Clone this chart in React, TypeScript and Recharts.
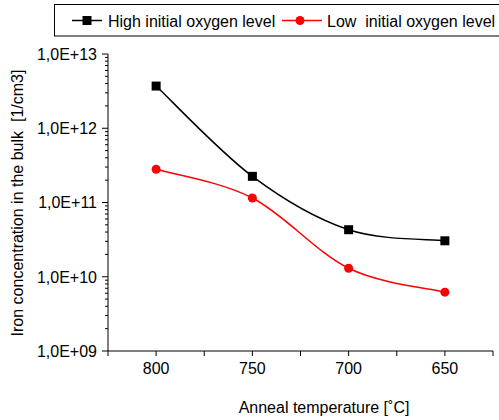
import React from 'react';
import { LineChart, Line, XAxis, YAxis, Legend, Label } from 'recharts';

const temperatures = [800, 750, 700, 650];
const highOxygen = [3.7e12, 2.25e11, 4.3e10, 3.05e10];
const lowOxygen = [2.8e11, 1.15e11, 1.3e10, 6.2e9];

const seriesNames = ['High initial oxygen level', 'Low  initial oxygen level'];

const xTicks = [825, 800, 775, 750, 725, 700, 675, 650, 625];
const xTickLabels: Record<number, string> = { 800: '800', 750: '750', 700: '700', 650: '650' };

const yMajorTicks = [1e9, 1e10, 1e11, 1e12, 1e13];
const yTickLabels = ['1,0E+09', '1,0E+10', '1,0E+11', '1,0E+12', '1,0E+13'];
const yMinorMultipliers = [2, 3, 4, 5, 6, 7, 8, 9];

const yTicks: number[] = [];
yMajorTicks.forEach((m, i) => {
  yTicks.push(m);
  if (i < yMajorTicks.length - 1) yMinorMultipliers.forEach((k) => yTicks.push(m * k));
});

const data = temperatures.map((t, i) => ({ temp: t, high: highOxygen[i], low: lowOxygen[i] }));

const FONT = '"Liberation Sans", Arial, sans-serif';

// Excel-like smoothing (Catmull-Rom bezier)
const smoothCurve: any = (context: any) => {
  let pts: number[][] = [];
  return {
    areaStart() {},
    areaEnd() {},
    lineStart() {
      pts = [];
    },
    point(x: number, y: number) {
      pts.push([+x, +y]);
    },
    lineEnd() {
      const n = pts.length;
      if (!n) return;
      context.moveTo(pts[0][0], pts[0][1]);
      for (let i = 0; i < n - 1; i++) {
        const p0 = pts[Math.max(i - 1, 0)];
        const p1 = pts[i];
        const p2 = pts[i + 1];
        const p3 = pts[Math.min(i + 2, n - 1)];
        const c1x = p1[0] + (p2[0] - p0[0]) / 6;
        const c1y = p1[1] + (p2[1] - p0[1]) / 6;
        const c2x = p2[0] - (p3[0] - p1[0]) / 6;
        const c2y = p2[1] - (p3[1] - p1[1]) / 6;
        context.bezierCurveTo(c1x, c1y, c2x, c2y, p2[0], p2[1]);
      }
    },
  };
};

const YTick = (props: any) => {
  const { x, y, payload } = props;
  const idx = yMajorTicks.indexOf(payload.value);
  if (idx >= 0) {
    return (
      <g>
        <line x1={x - 6} y1={y} x2={x} y2={y} stroke="#000" strokeWidth={1} />
        <text x={x - 11} y={y} dy="0.36em" textAnchor="end" fontFamily={FONT} fontSize={16} fill="#000">
          {yTickLabels[idx]}
        </text>
      </g>
    );
  }
  return <line x1={x - 3} y1={y} x2={x} y2={y} stroke="#000" strokeWidth={1} />;
};

const SquareDot = (props: any) => {
  const { cx, cy } = props;
  return <rect x={cx - 4.5} y={cy - 4.5} width={9} height={9} fill="#000" />;
};

const CircleDot = (props: any) => {
  const { cx, cy } = props;
  return <circle cx={cx} cy={cy} r={4.5} fill="#ff0000" />;
};

const LegendBox = () => (
  <svg width={460} height={33} style={{ display: 'block' }}>
    <rect x={0.5} y={0.5} width={470} height={31.5} fill="#fff" stroke="#000" strokeWidth={1} />
    <line x1={18} y1={16.5} x2={48} y2={16.5} stroke="#000" strokeWidth={1.5} />
    <rect x={28.5} y={12} width={9} height={9} fill="#000" />
    <text x={54} y={17.5} dy="0.36em" fontFamily={FONT} fontSize={16} fill="#000">
      {seriesNames[0]}
    </text>
    <line x1={228} y1={16.5} x2={268} y2={16.5} stroke="#ff0000" strokeWidth={1.5} />
    <circle cx={246} cy={16.5} r={4.5} fill="#ff0000" />
    <text x={273} y={17.5} dy="0.36em" fontFamily={FONT} fontSize={16} fill="#000" style={{ whiteSpace: 'pre' }}>
      {seriesNames[1]}
    </text>
  </svg>
);

export default function App() {
  return (
    <div style={{ position: 'absolute', left: 0, top: 0, width: 499, height: 420, overflow: 'hidden', background: '#fff' }}>
      <LineChart width={499} height={420} data={data} margin={{ top: 54, right: 6, bottom: 0, left: 0 }}>
        <XAxis
          dataKey="temp"
          type="number"
          domain={[625, 825]}
          reversed
          ticks={xTicks}
          interval={0}
          height={69}
          tickSize={5}
          tickMargin={7}
          tickFormatter={(v: number) => xTickLabels[v] ?? ''}
          tick={{ fontFamily: FONT, fontSize: 16, fill: '#000' }}
          axisLine={{ stroke: '#000', strokeWidth: 1 }}
          tickLine={{ stroke: '#000', strokeWidth: 1 }}
        >
          <Label
            content={() => (
              <text x={324} y={413} textAnchor="middle" fontFamily={FONT} fontSize={16} fill="#000">
                Anneal temperature [˚C]
              </text>
            )}
          />
        </XAxis>
        <YAxis
          scale="log"
          domain={[1e9, 1e13]}
          allowDataOverflow
          ticks={yTicks}
          interval={0}
          width={108}
          tickSize={0}
          tickMargin={0}
          tickLine={false}
          tick={<YTick />}
          axisLine={{ stroke: '#000', strokeWidth: 1 }}
        >
          <Label
            content={() => (
              <text
                x={23}
                y={203}
                transform="rotate(-90 23 203)"
                textAnchor="middle"
                fontFamily={FONT}
                fontSize={16}
                fill="#000"
                style={{ whiteSpace: 'pre' }}
              >
                Iron concentration in the bulk  [1/cm3]
              </text>
            )}
          />
        </YAxis>
        <Legend
          verticalAlign="middle"
          layout="horizontal"
          wrapperStyle={{ position: 'absolute', left: 54, top: 4, width: 460, height: 33 }}
          content={() => <LegendBox />}
        />
        <Line
          type={smoothCurve}
          dataKey="high"
          name={seriesNames[0]}
          stroke="#000"
          strokeWidth={1.5}
          dot={<SquareDot />}
          activeDot={false}
          isAnimationActive={false}
        />
        <Line
          type={smoothCurve}
          dataKey="low"
          name={seriesNames[1]}
          stroke="#ff0000"
          strokeWidth={1.5}
          dot={<CircleDot />}
          activeDot={false}
          isAnimationActive={false}
        />
      </LineChart>
    </div>
  );
}
